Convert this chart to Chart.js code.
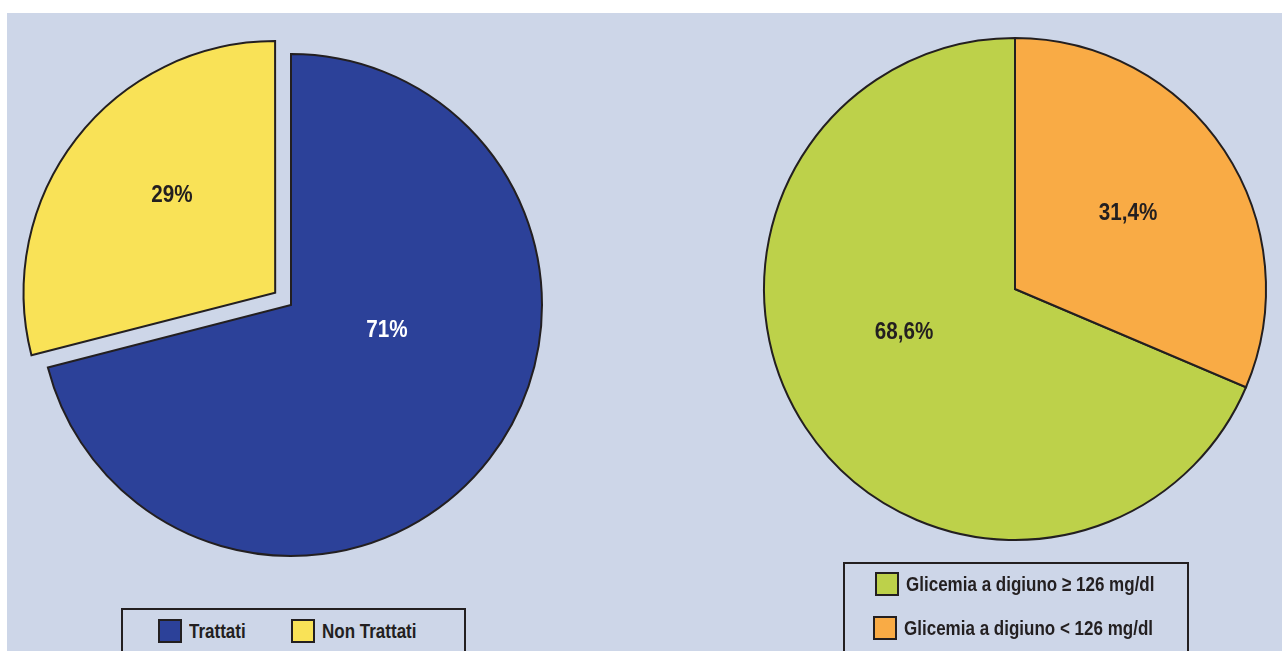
<!DOCTYPE html>
<html lang="it">
<head>
<meta charset="utf-8">
<title>Trattamento e glicemia a digiuno</title>
<script src="https://cdn.jsdelivr.net/npm/chart.js@4/dist/chart.umd.min.js"></script>
<style>
  html, body { margin: 0; padding: 0; width: 1282px; height: 651px; overflow: hidden; background: #ffffff; }
  #panel { position: absolute; left: 7px; top: 13px; right: 0; bottom: 0; background: #cdd6e8; }
  canvas { position: absolute; }
  #pieLeft { left: -9px; top: 5px; }
  #pieRight { left: 715px; top: -11px; }
  .legend { position: absolute; border: 2px solid #231f20; box-sizing: border-box; height: 80px;
            font: bold 21px "Liberation Sans", Arial, sans-serif; color: #231f20; }
  .legend .item { position: absolute; display: flex; align-items: center; white-space: nowrap; }
  .legend .swatch { width: 24px; height: 24px; border: 2px solid #231f20; box-sizing: border-box; margin-right: 7px; flex: none; }
  /* condensed look: squeeze the regular face horizontally */
  .legend .text { display: inline-block; transform: scaleX(0.81); transform-origin: 0 50%; }
  #legendLeft { left: 121px; top: 608px; width: 345px; }
  #legendRight { left: 843px; top: 562px; width: 346px; height: 120px; }
</style>
</head>
<body>
<div id="panel"></div>
<canvas id="pieLeft" width="600" height="600"></canvas>
<canvas id="pieRight" width="600" height="600"></canvas>
<div class="legend" id="legendLeft"></div>
<div class="legend" id="legendRight"></div>
<script>
// treatment split
const treatLabels = ['Trattati', 'Non Trattati'];
const treatValues = [71, 29];
const treatColors = ['#2c4199', '#f9e257'];

// fasting glycaemia split
const glyLabels = ['Glicemia a digiuno \u2265 126 mg/dl', 'Glicemia a digiuno < 126 mg/dl'];
const glyValues = [68.6, 31.4];
const glyColors = ['#bdd14a', '#f9ab45'];

const inkColor = '#231f20';
const labelFont = 'bold 24px "Liberation Sans", Arial, sans-serif';
const squeeze = 0.86;

function formatPct(v) {
  return String(v).replace('.', ',') + '%';
}

// writes the percentage of every slice, shifted from the pie centre
const sliceLabels = {
  id: 'sliceLabels',
  afterDatasetsDraw(chart, args, opts) {
    const { ctx } = chart;
    const meta = chart.getDatasetMeta(0);
    const values = chart.data.datasets[0].data;
    meta.data.forEach((arc, i) => {
      const shift = opts.shifts[i];
      ctx.save();
      ctx.font = labelFont;
      ctx.textAlign = 'center';
      ctx.textBaseline = 'middle';
      ctx.fillStyle = opts.colors[i];
      ctx.translate(arc.x + shift[0], arc.y + shift[1]);
      ctx.scale(squeeze, 1);
      ctx.fillText(formatPct(values[i]), 0, 0);
      ctx.restore();
    });
  }
};

function makePie(id, labels, values, colors, extra) {
  return new Chart(document.getElementById(id), {
    type: 'pie',
    data: {
      labels: labels,
      datasets: [{
        data: values,
        backgroundColor: colors,
        borderColor: inkColor,
        borderWidth: 2,
        borderJoinStyle: 'miter',
        offset: extra.offset
      }]
    },
    options: {
      responsive: false,
      animation: false,
      radius: 251,
      rotation: extra.rotation,
      layout: { padding: 0 },
      events: [],
      plugins: {
        legend: { display: false },
        tooltip: { enabled: false },
        sliceLabels: { shifts: extra.shifts, colors: extra.textColors }
      }
    },
    plugins: [sliceLabels]
  });
}

makePie('pieLeft', treatLabels, treatValues, treatColors, {
  offset: [0, 80],
  rotation: 0,
  shifts: [[96, 25], [-119, -110]],
  textColors: ['#ffffff', inkColor]
});

// the smaller share starts at twelve o'clock, so the larger one begins where it ends
makePie('pieRight', glyLabels, glyValues, glyColors, {
  offset: [0, 0],
  rotation: glyValues[1] / 100 * 360,
  shifts: [[-111, 43], [113, -76]],
  textColors: [inkColor, inkColor]
});

function buildLegend(id, labels, colors, spots) {
  const box = document.getElementById(id);
  labels.forEach((text, i) => {
    const item = document.createElement('div');
    item.className = 'item';
    item.style.left = spots[i][0] + 'px';
    item.style.top = spots[i][1] + 'px';
    const sw = document.createElement('span');
    sw.className = 'swatch';
    sw.style.background = colors[i];
    const tx = document.createElement('span');
    tx.className = 'text';
    tx.textContent = text;
    item.appendChild(sw);
    item.appendChild(tx);
    box.appendChild(item);
  });
}

buildLegend('legendLeft', treatLabels, treatColors, [[35, 9], [168, 9]]);
buildLegend('legendRight', glyLabels, glyColors, [[30, 8], [28, 52]]);
</script>
</body>
</html>
